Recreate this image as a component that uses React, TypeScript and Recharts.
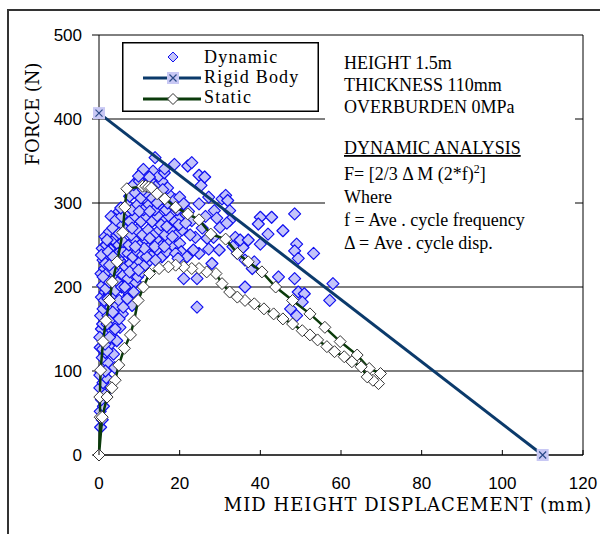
import React from "react";
import { CartesianGrid, Legend, ReferenceLine, Scatter, ScatterChart, XAxis, YAxis } from "recharts";

// axis ticks
const xTicks = [0, 20, 40, 60, 80, 100, 120];
const yTicks = [0, 100, 200, 300, 400, 500];

// measured dynamic response, [displacement mm, force N]
const dynamicPoints: [number, number][] = [
  // column along the force axis
  [0.4, 33], [0.8, 42], [0.3, 52], [1.1, 58], [0.6, 66], [1.4, 72], [0.2, 80], [1.0, 86], [1.8, 92],
  [0.5, 98], [1.3, 105], [2.1, 110], [0.8, 116], [1.6, 122], [0.3, 128], [2.4, 130], [1.1, 138],
  [1.9, 144], [0.6, 150], [2.7, 152], [1.4, 158], [3.3, 148], [0.4, 166], [2.2, 166], [3.0, 162],
  [1.0, 174], [1.8, 180], [2.9, 176], [3.8, 168], [0.6, 188], [1.5, 194], [2.5, 192], [3.5, 186],
  [4.4, 178], [0.9, 202], [2.0, 208], [3.0, 200], [4.1, 196], [0.5, 216], [1.4, 222], [2.4, 218],
  [3.6, 212], [4.7, 206], [1.0, 232], [2.0, 236], [3.1, 228], [4.2, 222], [5.3, 216], [0.8, 246],
  [1.8, 250], [2.9, 244], [4.0, 238], [5.1, 232], [6.2, 226], [1.5, 260], [2.6, 266], [3.7, 256],
  [4.9, 250], [3.6, 120], [4.4, 136], [5.2, 152], [3.9, 104], [5.8, 168], [6.6, 184],
  [0.2, 95], [1.6, 100], [0.9, 126], [2.0, 124], [0.2, 140], [1.5, 132], [2.6, 140], [0.9, 156],
  [2.0, 156], [3.4, 170], [1.3, 184], [2.2, 186], [1.7, 198], [2.6, 206], [1.0, 212], [3.4, 220],
  [1.6, 228], [2.6, 226], [4.8, 240], [0.6, 238], [2.3, 242], [3.5, 236], [2.0, 256], [4.4, 262],
  [6.0, 242], [5.7, 274], [3.0, 284], [6.8, 288], [7.0, 298], [5.0, 290],
  // main cloud
  [5.0, 184], [7.4, 190], [8.2, 178], [5.6, 200], [6.8, 196], [7.8, 204], [9.0, 206],
  [6.0, 214], [7.2, 210], [8.4, 216], [9.6, 212], [10.6, 218],
  [6.6, 224], [7.8, 228], [9.0, 224], [10.2, 230], [11.4, 226], [12.6, 232],
  [7.2, 240], [8.4, 236], [9.6, 242], [10.8, 238], [12.0, 244], [13.2, 238], [14.4, 244], [15.6, 236], [16.8, 242],
  [6.0, 254], [7.4, 250], [8.8, 256], [10.2, 250], [11.6, 256], [13.0, 250], [14.4, 256], [15.8, 250],
  [17.2, 254], [18.6, 248], [20.0, 252],
  [3.4, 270], [5.0, 264], [6.6, 268], [8.0, 262], [9.4, 268], [10.8, 262], [12.2, 268], [13.6, 262],
  [15.0, 268], [16.4, 262], [17.8, 268], [19.2, 262], [20.6, 268],
  [4.2, 280], [5.6, 284], [7.6, 278], [9.0, 284], [10.4, 278], [11.8, 284], [13.2, 278], [14.6, 284],
  [16.0, 278], [17.4, 284], [18.8, 278], [20.2, 284],
  [5.4, 294], [8.2, 292], [9.6, 298], [11.0, 292], [12.4, 298], [13.8, 292], [15.2, 298], [16.6, 292],
  [18.0, 298], [19.4, 292], [20.8, 300],
  [7.6, 308], [9.0, 312], [10.4, 306], [11.8, 312], [13.2, 306], [14.6, 312], [16.0, 306], [17.4, 310],
  [8.6, 322], [10.0, 326], [11.4, 320], [12.8, 326], [14.2, 320], [15.6, 326], [17.0, 318],
  [10.6, 336], [12.0, 332], [13.4, 338], [14.8, 332], [16.2, 336],
  [11.0, 340], [13.9, 354], [16.3, 341], [18.7, 346], [22.0, 344], [23.0, 348], [12.5, 331],
  [4.0, 150], [5.0, 162], [6.0, 176], [7.0, 186], [6.4, 200], [8.6, 194], [7.6, 218], [9.8, 220],
  [11.8, 236], [13.8, 248], [12.6, 258], [15.4, 274], [17.0, 300], [18.8, 304], [16.8, 272], [19.8, 274],
  [21.6, 286], [18.2, 260], [20.4, 242], [19.0, 240], [14.0, 232], [16.2, 248], [11.2, 246], [9.0, 248],
  [8.2, 270], [10.0, 290], [12.6, 290], [14.4, 300], [11.0, 316], [13.6, 316], [15.8, 316], [9.8, 332],
  // right part of the cloud
  [20.0, 307], [21.0, 299], [22.2, 290], [23.0, 279], [23.9, 259], [24.8, 240], [24.8, 299], [24.8, 333],
  [25.3, 321], [26.2, 331], [27.2, 307], [27.2, 245], [28.0, 228], [28.4, 259], [28.6, 291], [30.0, 271],
  [30.5, 305], [31.4, 309], [31.9, 303], [32.4, 291], [32.4, 279], [33.8, 259], [34.3, 240], [35.7, 247],
  [21.5, 276], [22.6, 262], [23.4, 244], [25.6, 270], [26.4, 284], [26.8, 258], [29.2, 282], [29.8, 244],
  [21.8, 236], [19.6, 234], [31.7, 276], [33.2, 248], [35.0, 256], [36.2, 232],
  // below the lower static branch
  [21.0, 210], [24.3, 210], [24.3, 176], [36.2, 200],
  // scattered outliers
  [38.0, 222], [38.5, 230], [37.0, 256], [40.0, 251], [40.0, 283], [39.5, 275], [41.9, 263], [42.8, 283],
  [44.5, 212], [45.6, 267], [48.5, 287], [49.0, 251], [48.5, 243], [49.4, 234], [53.2, 240], [48.5, 210],
  [49.4, 194], [50.9, 192], [50.4, 182], [47.5, 174], [49.0, 166], [58.0, 204], [57.2, 184],
];

// rigid body mechanism line
const rigidBodyPoints: [number, number][] = [[0, 407], [110, 0]];

// static push-over curve, loading branch then unloading branch back to origin
const staticPoints: [number, number][] = [
  [0, 0], [0.3, 45], [0.2, 69], [0.4, 101], [1.0, 135], [1.7, 160], [2.6, 184], [3.3, 206], [4.5, 230],
  [5.9, 265], [6.4, 295], [6.9, 317], [10.8, 320], [11.6, 320], [12.3, 319], [13.0, 318], [14.4, 311],
  [16.3, 305], [19.0, 295], [22.0, 287], [24.8, 280], [27.7, 263], [31.4, 257], [34.3, 240], [37.0, 230],
  [40.4, 218], [43.8, 200], [48.0, 184], [52.3, 168], [56.0, 152], [59.8, 135], [64.0, 119], [67.0, 103],
  [69.8, 97], [69.3, 85], [67.9, 89], [66.5, 93], [65.0, 105], [62.7, 111], [60.8, 117], [58.4, 123],
  [56.5, 129], [54.2, 137], [52.3, 143], [50.4, 148], [48.0, 156], [45.6, 162], [43.3, 168], [40.9, 174],
  [38.5, 180], [36.2, 184], [34.3, 188], [32.4, 194], [30.5, 204], [29.0, 216], [26.7, 218], [24.8, 222],
  [23.0, 222], [21.0, 224], [19.0, 226], [17.2, 224], [14.9, 222], [12.5, 216], [11.0, 200], [9.7, 184],
  [8.7, 160], [7.8, 143], [6.3, 127], [4.9, 107], [4.0, 89], [3.2, 80], [2.0, 69], [0.8, 45], [0, 0],
];

const annotationLines = [
  "HEIGHT 1.5m",
  "THICKNESS 110mm",
  "OVERBURDEN 0MPa",
];

const toRows = (pts: [number, number][]) => pts.map(([x, y]) => ({ x, y }));

const SERIF = "'Liberation Serif', 'Times New Roman', serif";
const SANS = "'Liberation Sans', Arial, sans-serif";
const WIDE_SERIF = "'DejaVu Serif', serif";

const RIGID = "#0b3a6b";
const STATIC = "#0b3b0b";
const DYN_FILL = "#c4c4fa";
const DYN_STROKE = "#1010f0";

const diamond = (cx: number, cy: number, r: number) =>
  `${cx},${cy - r} ${cx + r},${cy} ${cx},${cy + r} ${cx - r},${cy}`;

const DynamicDot = (props: any) => (
  <polygon points={diamond(props.cx, props.cy, 6)} fill={DYN_FILL} stroke={DYN_STROKE} strokeWidth={1.2} strokeLinejoin="round" />
);

const StaticDot = (props: any) => (
  <polygon points={diamond(props.cx, props.cy, 6)} fill="#fff" stroke="#333" strokeWidth={1} />
);

const RigidDot = (props: any) => {
  const { cx, cy } = props;
  return (
    <g>
      <rect x={cx - 6} y={cy - 6} width={12} height={12} fill="#c8c8f4" />
      <path d={`M${cx - 3.5},${cy - 3.5}L${cx + 3.5},${cy + 3.5}M${cx + 3.5},${cy - 3.5}L${cx - 3.5},${cy + 3.5}`} stroke="#2a4a88" strokeWidth={1.2} />
    </g>
  );
};

const XTick = (props: any) => {
  const { x, y, payload } = props;
  return (
    <g>
      <line x1={x} x2={x} y1={y - 5} y2={y} stroke="#000" />
      <text x={x} y={y + 34} textAnchor="middle" fontFamily={SANS} fontSize={17} fill="#000">
        {payload.value}
      </text>
    </g>
  );
};

const renderLegend = () => (
  <svg width={197} height={70} style={{ display: "block" }}>
    <rect x={0.75} y={0.75} width={195.5} height={68.5} fill="#fff" stroke="#000" strokeWidth={1.5} />
    <polygon points={diamond(51, 15, 5)} fill={DYN_FILL} stroke={DYN_STROKE} />
    <line x1={21} x2={79} y1={36} y2={36} stroke={RIGID} strokeWidth={3} />
    <RigidDot cx={51} cy={36} />
    <line x1={21} x2={79} y1={57} y2={57} stroke={STATIC} strokeWidth={3} />
    <polygon points={diamond(51, 57, 5.5)} fill="#fff" stroke="#333" />
    <g fontFamily={SERIF} fontSize={18} letterSpacing={1.2} fill="#000">
      <text x={82} y={21}>Dynamic</text>
      <text x={82} y={41}>Rigid Body</text>
      <text x={82} y={61}>Static</text>
    </g>
  </svg>
);

export default function App() {
  return (
    <div style={{ position: "absolute", left: 0, top: 0, width: 600, height: 534, background: "#fff" }}>
      <ScatterChart width={600} height={534} margin={{ top: 35, right: 17, bottom: 0, left: 0 }}>
        <CartesianGrid horizontal vertical={false} stroke="#000" strokeWidth={1} />
        <XAxis
          type="number"
          dataKey="x"
          domain={[0, 120]}
          ticks={xTicks}
          height={79}
          axisLine={{ stroke: "#000" }}
          tickLine={false}
          tickSize={0}
          tickMargin={0}
          tick={<XTick />}
          interval={0}
        />
        <YAxis
          type="number"
          dataKey="y"
          domain={[0, 500]}
          ticks={yTicks}
          width={99}
          axisLine={{ stroke: "#000" }}
          tickLine={{ stroke: "#000" }}
          tickSize={7}
          tickMargin={10}
          tick={{ fill: "#000", fontSize: 17, fontFamily: SANS }}
          interval={0}
        />
        <ReferenceLine x={120} stroke="#000" />
        <Legend
          layout="vertical"
          align="center"
          verticalAlign="middle"
          content={renderLegend}
          wrapperStyle={{ position: "absolute", left: 122, top: 42, width: 197, height: 70 }}
        />
        <Scatter name="Dynamic" data={toRows(dynamicPoints)} shape={<DynamicDot />} isAnimationActive={false} />
        <Scatter
          name="Rigid Body"
          data={toRows(rigidBodyPoints)}
          line={{ stroke: RIGID, strokeWidth: 3 }}
          shape={<RigidDot />}
          isAnimationActive={false}
        />
        <Scatter
          name="Static"
          data={toRows(staticPoints)}
          line={{ stroke: STATIC, strokeWidth: 2.5 }}
          shape={<StaticDot />}
          isAnimationActive={false}
        />
      </ScatterChart>

      <svg width={600} height={534} style={{ position: "absolute", left: 0, top: 0, pointerEvents: "none" }}>
        {/* outer frame */}
        <path d="M8,534 L8,10 L600,10" fill="none" stroke="#333" strokeWidth={2} />
        {/* annotation text box */}
        <rect x={325} y={37} width={250} height={220} fill="#fff" />
        <g fontFamily={SERIF} fontSize={18} fill="#000">
          {annotationLines.map((t, i) => (
            <text key={t} x={344} y={69 + i * 22}>{t}</text>
          ))}
          <text x={344} y={154} textDecoration="underline">DYNAMIC ANALYSIS</text>
          <text x={344} y={180}>
            F= [2/3 Δ M (2*f)<tspan dy={-7} fontSize={12}>2</tspan><tspan dy={7}>]</tspan>
          </text>
          <text x={344} y={203}>Where</text>
          <text x={344} y={226}>f = Ave . cycle frequency</text>
          <text x={344} y={249}>Δ = Ave . cycle disp.</text>
        </g>
        {/* axis titles */}
        <text x={408} y={511} textAnchor="middle" fontFamily={WIDE_SERIF} fontSize={18} letterSpacing={1} fill="#000">
          MID HEIGHT DISPLACEMENT (mm)
        </text>
        <text
          x={33}
          y={120}
          textAnchor="middle"
          fontFamily={WIDE_SERIF}
          fontSize={18}
          fill="#000"
          transform="rotate(-90 33 114)"
        >
          FORCE (N)
        </text>
      </svg>
    </div>
  );
}
